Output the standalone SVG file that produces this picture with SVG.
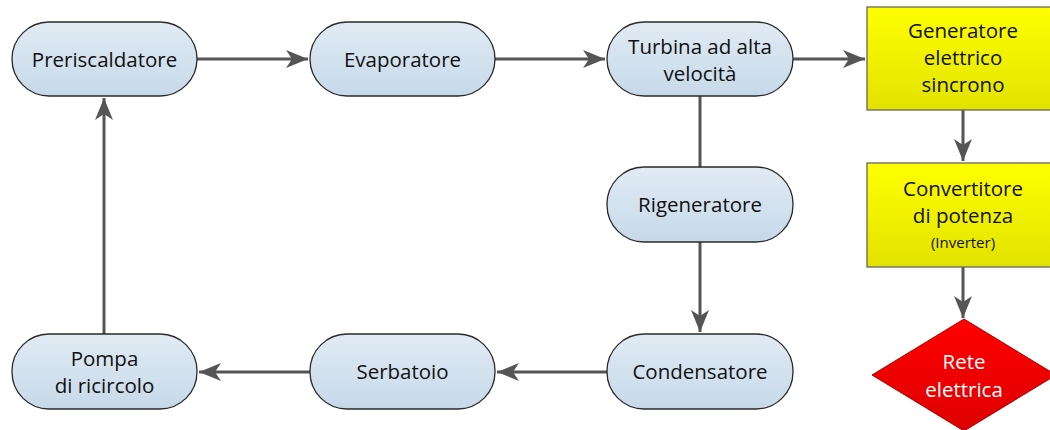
<svg xmlns="http://www.w3.org/2000/svg" width="1050" height="430" viewBox="0 0 1050 430">
<defs>
<linearGradient id="gb" x1="0" y1="0" x2="0" y2="1"><stop offset="0" stop-color="#e1ebf4"/><stop offset="1" stop-color="#c6d9e9"/></linearGradient>
<linearGradient id="gy" x1="0" y1="0" x2="0" y2="1"><stop offset="0" stop-color="#ffff00"/><stop offset="1" stop-color="#e2e200"/></linearGradient>
<linearGradient id="gr" x1="0" y1="0" x2="0" y2="1"><stop offset="0" stop-color="#ff0000"/><stop offset="1" stop-color="#dd0000"/></linearGradient>
<marker id="ah" markerUnits="userSpaceOnUse" markerWidth="24" markerHeight="20" refX="22" refY="9" orient="auto" viewBox="0 0 24 20">
<path d="M0,0 L22,9 L0,18 L6,9 z" fill="#555"/>
</marker>
<style>
.n{fill:url(#gb);stroke:#2a2a2a;stroke-width:1.3}
.y{fill:url(#gy);stroke:#666;stroke-width:1.3}
.d{fill:url(#gr);stroke:#aa0000;stroke-width:1}
text{font-family:"Open Sans","Noto Sans",sans-serif;font-size:20.5px;fill:#111;text-anchor:middle}
.w{fill:#fff}
.s{font-size:15px}
.c{fill:none;stroke:#555;stroke-width:3}
</style>
</defs>
<g id="connectors">
<line class="c" x1="197" y1="59" x2="308" y2="59" marker-end="url(#ah)"/>
<line class="c" x1="495" y1="59" x2="605" y2="59" marker-end="url(#ah)"/>
<line class="c" x1="793" y1="59" x2="865" y2="59" marker-end="url(#ah)"/>
<line class="c" x1="700" y1="96" x2="700" y2="167"/>
<line class="c" x1="700" y1="242" x2="700" y2="332" marker-end="url(#ah)"/>
<line class="c" x1="607" y1="372" x2="497" y2="372" marker-end="url(#ah)"/>
<line class="c" x1="310" y1="372" x2="199" y2="372" marker-end="url(#ah)"/>
<line class="c" x1="104" y1="334" x2="104" y2="98" marker-end="url(#ah)"/>
<line class="c" x1="963" y1="110" x2="963" y2="161" marker-end="url(#ah)"/>
<line class="c" x1="963" y1="267" x2="963" y2="318" marker-end="url(#ah)"/>
</g>
<g id="preriscaldatore"><rect class="n" x="12" y="22" width="185" height="74" rx="37"/><text x="104.5" y="67">Preriscaldatore</text></g>
<g id="evaporatore"><rect class="n" x="310" y="22" width="185" height="74" rx="37"/><text x="402.5" y="67">Evaporatore</text></g>
<g id="turbina"><rect class="n" x="607" y="22" width="186" height="74" rx="37"/><text x="700" y="54">Turbina ad alta</text><text x="700" y="81">velocità</text></g>
<g id="generatore"><rect class="y" x="867" y="7" width="192" height="103"/><text x="963" y="38">Generatore</text><text x="963" y="65">elettrico</text><text x="963" y="92">sincrono</text></g>
<g id="rigeneratore"><rect class="n" x="607" y="167" width="186" height="75" rx="37"/><text x="700" y="212">Rigeneratore</text></g>
<g id="convertitore"><rect class="y" x="867" y="163" width="192" height="104"/><text x="963" y="196">Convertitore</text><text x="963" y="223">di potenza</text><text class="s" x="963" y="248">(Inverter)</text></g>
<g id="condensatore"><rect class="n" x="607" y="334" width="186" height="75" rx="37"/><text x="700" y="379">Condensatore</text></g>
<g id="serbatoio"><rect class="n" x="310" y="334" width="185" height="75" rx="37"/><text x="402.5" y="379">Serbatoio</text></g>
<g id="pompa"><rect class="n" x="12" y="334" width="185" height="75" rx="37"/><text x="104.5" y="366">Pompa</text><text x="104.5" y="393">di ricircolo</text></g>
<g id="rete"><polygon class="d" points="964,319 1056,375 964,431 872,375"/><text class="w" x="964" y="369">Rete</text><text class="w" x="964" y="397">elettrica</text></g>
</svg>
